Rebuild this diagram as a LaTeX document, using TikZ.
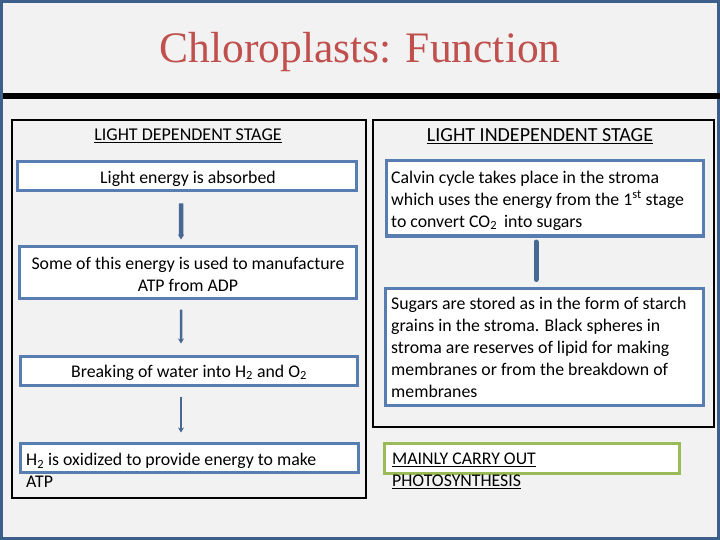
\documentclass[tikz,border=0pt]{standalone}
\usepackage{fontspec}
\setmainfont{Carlito}
\newfontfamily\titlefont{Liberation Serif}
\usetikzlibrary{arrows.meta}
\definecolor{bg}{RGB}{242,242,242}
\definecolor{frame}{RGB}{62,94,140}
\definecolor{boxblue}{RGB}{88,125,176}
\definecolor{arrblue}{RGB}{72,104,148}
\definecolor{titlered}{RGB}{192,80,77}
\definecolor{boxgreen}{RGB}{155,187,89}
\tikzset{
  bluebox/.style={draw=boxblue, line width=3bp, fill=white, inner sep=0pt},
  greenbox/.style={draw=boxgreen, line width=3bp, fill=white, inner sep=0pt},
  panel/.style={draw=black, line width=1.2bp, fill=bg, inner sep=0pt},
  txt/.style={font=\fontsize{17.8bp}{22bp}\selectfont, inner sep=0pt, text=black, yshift=-1.5bp},
  flowarrow/.style={draw=arrblue, -{Stealth[length=5bp,width=6bp]}},
}
\begin{document}
\begin{tikzpicture}[x=1bp,y=-1bp]
\useasboundingbox (0,0) rectangle (720,540);
% background and frame
\fill[bg] (0,0) rectangle (720,540);
\draw[frame, line width=3bp] (1.5,1.5) rectangle (718.5,538.5);
% title
\node[font=\titlefont\fontsize{43.5bp}{48bp}\selectfont, text=titlered, inner sep=0pt] (title) at (360,52) {Chloroplasts: Function};
% black bar
\fill[black] (3,93) rectangle (720,99);
% panels
\node[panel, minimum width=354bp, minimum height=378bp] (lpanel) at (189,309) {};
\node[panel, minimum width=341bp, minimum height=307bp] (rpanel) at (543.5,273.5) {};
% headings
\node[txt, font=\fontsize{18bp}{22bp}\selectfont] (lhead) at (188,134) {\underline{LIGHT DEPENDENT STAGE}};
\node[txt, font=\fontsize{20bp}{24bp}\selectfont] (rhead) at (540,135) {\underline{LIGHT INDEPENDENT STAGE}};
% left boxes
\node[bluebox, minimum width=338bp, minimum height=29bp] (b1) at (187,176.5) {};
\node[bluebox, minimum width=336bp, minimum height=51bp] (b2) at (188,272.5) {};
\node[bluebox, minimum width=336bp, minimum height=29bp] (b3) at (189,370.5) {};
\node[bluebox, minimum width=337bp, minimum height=29bp] (b4) at (189.5,457.5) {};
\node[txt] (t1) at (188,177) {Light energy is absorbed};
\node[txt, align=center] (t2) at (188,273) {Some of this energy is used to manufacture\\ATP from ADP};
\node[txt] (t3) at (189,371) {Breaking of water into H\textsubscript{2} and O\textsubscript{2}};
\node[txt, anchor=west, align=left] (t4) at (26,469) {H\textsubscript{2} is oxidized to provide energy to make\\ATP};
% left arrows
\draw[flowarrow, line width=4.5bp, shorten <=11bp, shorten >=6bp] ([xshift=-6bp]b1.south) -- ([xshift=-7bp]b2.north);
\draw[flowarrow, line width=2.5bp, shorten <=10bp, shorten >=11bp] ([xshift=-7bp]b2.south) -- ([xshift=-8bp]b3.north);
\draw[flowarrow, line width=2.5bp, shorten <=10bp, shorten >=9bp] ([xshift=-8bp]b3.south) -- ([xshift=-8.5bp]b4.north);
% right boxes
\node[bluebox, minimum width=317bp, minimum height=75bp] (r1) at (544.5,198.5) {};
\node[bluebox, minimum width=318bp, minimum height=116bp] (r2) at (544,347) {};
\node[greenbox, minimum width=295bp, minimum height=30bp] (g1) at (531.5,458) {};
\node[txt, anchor=west, align=left] (rt1) at (391,199) {Calvin cycle takes place in the stroma\\which uses the energy from the 1\textsuperscript{st} stage\\to convert CO\textsubscript{2}\, into sugars};
\node[txt, anchor=west, align=left] (rt2) at (391,346) {Sugars are stored as in the form of starch\\grains in the stroma. Black spheres in\\stroma are reserves of lipid for making\\membranes or from the breakdown of\\membranes};
\node[txt, anchor=west, align=left] (gt) at (392,469) {\underline{MAINLY CARRY OUT}\\\underline{PHOTOSYNTHESIS}};
% right connector
\draw[arrblue, line width=5bp, line cap=round, shorten <=4.5bp, shorten >=8bp] ([xshift=-8.5bp]r1.south) -- ([xshift=-8bp]r2.north);
\end{tikzpicture}
\end{document}
